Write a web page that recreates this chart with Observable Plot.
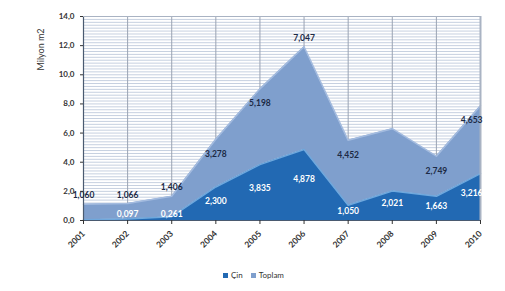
<!DOCTYPE html>
<html>
<head>
<meta charset="utf-8">
<script src="https://cdn.jsdelivr.net/npm/d3@7"></script>
<script src="https://cdn.jsdelivr.net/npm/@observablehq/plot@0.6"></script>
<style>
  body { margin: 0; background: #fff; font-family: Lato, "Open Sans", sans-serif; }
  #chart { width: 505px; height: 291px; position: relative; }
  .legend { position: absolute; left: 223px; top: 270px; font-size: 8px; color: #333; display: flex; gap: 8px; align-items: center; }
  .legend span.sw { display: inline-block; width: 5px; height: 5px; margin-right: 3px; vertical-align: middle; }
</style>
</head>
<body>
<div id="chart"></div>
<script>
const years = [2001, 2002, 2003, 2004, 2005, 2006, 2007, 2008, 2009, 2010];
const cin = [0.05, 0.097, 0.261, 2.300, 3.835, 4.878, 1.050, 2.021, 1.663, 3.216];
const diger = [1.060, 1.066, 1.406, 3.278, 5.198, 7.047, 4.452, 4.28, 2.749, 4.653];
const cinLabels = [null, "0,097", "0,261", "2,300", "3,835", "4,878", "1,050", "2,021", "1,663", "3,216"];
const digerLabels = ["1,060", "1,066", "1,406", "3,278", "5,198", "7,047", "4,452", null, "2,749", "4,653"];
const seriesNames = ["Çin", "Toplam"];
const yTicks = [0, 2, 4, 6, 8, 10, 12, 14];
const colors = ["#2269b3", "#7f9fcd"];

const rows = [];
years.forEach((yr, i) => {
  rows.push({year: yr, series: seriesNames[0], value: cin[i]});
  rows.push({year: yr, series: seriesNames[1], value: diger[i]});
});
const totals = years.map((yr, i) => cin[i] + diger[i]);
const maxTotal = d3.max(totals);
const lastYear = years[years.length - 1];

const cinText = years.map((yr, i) => ({year: yr, y: Math.max(cin[i] * 0.58, 0.45), label: cinLabels[i]})).filter(d => d.label);
const digText = years.map((yr, i) => {
  const t = totals[i];
  let y;
  if (t < 2) y = t + 0.6;
  else if (t === maxTotal) y = t + 0.6;
  else y = t - 1.0;
  return {year: yr, y, label: digerLabels[i]};
}).filter(d => d.label);

const fmt = v => d3.format(".1f")(v).replace(".", ",");
const minorTicks = d3.range(0, 14.01, 0.2);
const notLast = d => d.year !== lastYear;
const isLast = d => d.year === lastYear;

const plot = Plot.plot({
  width: 505,
  height: 268,
  marginTop: 16,
  marginBottom: 48,
  marginLeft: 83,
  marginRight: 25,
  style: {fontFamily: "Lato, 'Open Sans', sans-serif", fontSize: "8px", color: "#333", background: "#fff"},
  x: {domain: [2001, 2010], ticks: years, tickFormat: d => String(d), tickRotate: -45, label: null, tickSize: 4},
  y: {domain: [0, 14], ticks: yTicks, tickFormat: fmt, label: null, tickSize: 3},
  color: {domain: seriesNames, range: colors},
  marks: [
    Plot.ruleY(minorTicks, {stroke: "#c6d0e0", strokeWidth: 1}),
    Plot.ruleX(years, {stroke: "#9aa3b3", strokeWidth: 1}),
    Plot.areaY(rows, Plot.stackY({x: "year", y: "value", fill: "series", order: seriesNames})),
    Plot.lineY(rows, Plot.stackY2({x: "year", y: "value", z: "series", order: seriesNames, stroke: d => d.series === "Çin" ? "#6fa8dd" : "#a3bbdf", strokeWidth: 1.5})),
    Plot.ruleY([0], {stroke: "#4a5a70", strokeWidth: 1.2}),
    Plot.ruleX([2001], {stroke: "#4a5a70", strokeWidth: 1.2}),
    Plot.ruleY([14], {stroke: "#a9b3c3"}),
    Plot.ruleX([2010], {stroke: "#a9b3c3", strokeWidth: 2}),
    Plot.text(digText, {filter: notLast, x: "year", y: "y", text: "label", fill: "#1c2a45", fontWeight: "bold", fontSize: 8.5}),
    Plot.text(digText, {filter: isLast, x: "year", y: "y", text: "label", fill: "#1c2a45", fontWeight: "bold", fontSize: 8.5, textAnchor: "end", dx: 2}),
    Plot.text(cinText, {filter: notLast, x: "year", y: "y", text: "label", fill: "#ffffff", fontWeight: "bold", fontSize: 8.5}),
    Plot.text(cinText, {filter: isLast, x: "year", y: "y", text: "label", fill: "#ffffff", fontWeight: "bold", fontSize: 8.5, textAnchor: "end", dx: 2}),
    Plot.axisY({ticks: yTicks, tickFormat: fmt, fontWeight: "bold", fill: "#333", tickSize: 3}),
    Plot.axisX({ticks: years, tickFormat: d => String(d), tickRotate: -45, fontWeight: "bold", fill: "#333", tickSize: 4, fontSize: 8.5}),
    Plot.text(["Milyon m2"], {frameAnchor: "top-left", textAnchor: "middle", dx: -46, dy: 33, rotate: -90, fill: "#333", fontSize: 9})
  ]
});
const chart = document.getElementById("chart");
chart.appendChild(plot);
const legend = document.createElement("div");
legend.className = "legend";
seriesNames.forEach((n, i) => {
  const item = document.createElement("div");
  item.innerHTML = `<span class="sw" style="background:${colors[i]}"></span>${n}`;
  legend.appendChild(item);
});
chart.appendChild(legend);
</script>
</body>
</html>
